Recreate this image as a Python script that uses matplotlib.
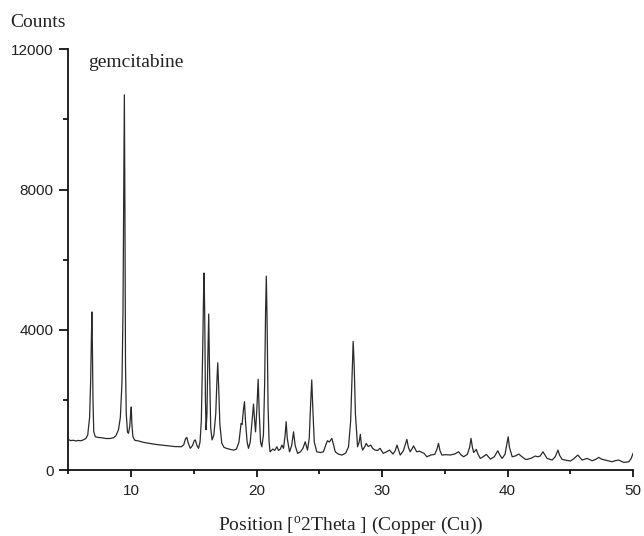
import matplotlib
matplotlib.use("Agg")
import matplotlib.pyplot as plt
from matplotlib.ticker import MultipleLocator

# XRD pattern of gemcitabine
two_theta = [
    5.0, 5.2, 5.4, 5.6, 5.8, 6.0, 6.2, 6.4, 6.55, 6.7, 6.78, 6.84, 6.88, 6.92, 6.97,
    7.03, 7.15, 7.4, 7.7, 8.0, 8.3, 8.6, 8.8, 9.0, 9.15, 9.28, 9.36, 9.42, 9.47, 9.52,
    9.56, 9.62, 9.72, 9.8, 9.9, 9.97, 10.02, 10.07, 10.15, 10.3, 10.6, 11.0, 11.5, 12.0,
    12.5, 13.0, 13.5, 14.0, 14.2, 14.35, 14.45, 14.55, 14.72, 14.9, 15.05, 15.13, 15.25,
    15.38, 15.5, 15.6, 15.7, 15.78, 15.82, 15.87, 15.93, 15.98, 16.05, 16.12, 16.19,
    16.25, 16.35, 16.46, 16.6, 16.75, 16.85, 16.91, 16.98, 17.08, 17.23, 17.4, 17.6,
    17.9, 18.2, 18.4, 18.6, 18.77, 18.85, 18.95, 19.04, 19.12, 19.25, 19.36, 19.5,
    19.62, 19.76, 19.85, 19.92, 20.02, 20.13, 20.22, 20.32, 20.42, 20.55, 20.65, 20.72,
    20.78, 20.84, 20.92, 21.0, 21.08, 21.3, 21.45, 21.62, 21.75, 21.9, 22.02, 22.15,
    22.28, 22.36, 22.45, 22.63, 22.8, 22.95, 23.08, 23.27, 23.5, 23.7, 23.88, 24.06,
    24.2, 24.3, 24.4, 24.48, 24.6, 24.8, 25.1, 25.33, 25.5, 25.65, 25.8, 26.0, 26.15,
    26.27, 26.5, 26.8, 27.1, 27.33, 27.5, 27.62, 27.7, 27.78, 27.88, 28.05, 28.18,
    28.27, 28.36, 28.45, 28.6, 28.74, 28.9, 29.1, 29.25, 29.44, 29.65, 29.84, 30.1,
    30.35, 30.6, 30.87, 31.05, 31.19, 31.45, 31.7, 31.98, 32.1, 32.24, 32.38, 32.51,
    32.76, 33.0, 33.2, 33.35, 33.57, 33.9, 34.2, 34.38, 34.5, 34.62, 34.77, 35.1,
    35.44, 35.8, 36.1, 36.3, 36.5, 36.8, 36.98, 37.09, 37.2, 37.3, 37.51, 37.65,
    37.83, 38.05, 38.31, 38.63, 38.95, 39.22, 39.4, 39.57, 39.8, 39.95, 40.05, 40.15,
    40.37, 40.6, 40.9, 41.15, 41.43, 41.55, 41.9, 42.21, 42.4, 42.6, 42.82, 43.0,
    43.15, 43.55, 43.8, 44.02, 44.15, 44.35, 44.7, 45.01, 45.3, 45.6, 45.94, 46.34,
    46.74, 47.0, 47.27, 47.5, 47.8, 48.33, 48.6, 48.86, 49.26, 49.66, 49.85, 50.0,
]
counts = [
    870, 840, 850, 830, 845, 836, 860, 900, 1000, 1500, 2500, 3800, 4510, 3600, 2000,
    1100, 950, 930, 920, 900, 900, 920, 980, 1150, 1500, 2500, 4500, 8000, 10700, 7000,
    3000, 1600, 1080, 1050, 1250, 1600, 1800, 1300, 950, 850, 830, 790, 760, 730,
    710, 690, 670, 665, 720, 900, 930, 780, 620, 700, 850, 856, 700,
    620, 800, 1400, 3200, 5000, 5620, 4500, 2000, 1150, 1600, 3200, 4450,
    3000, 1200, 860, 1000, 1600, 2600, 3060, 2400, 1300, 770, 650, 620,
    590, 570, 600, 800, 1330, 1300, 1700, 1950, 1400, 800, 620, 800,
    1300, 1880, 1400, 1090, 1700, 2590, 1600, 800, 665, 1000, 2500, 4500,
    5530, 4300, 1800, 800, 520, 600, 560, 665, 560, 600, 713, 620,
    1000, 1380, 900, 520, 700, 1090, 700, 476, 520, 620, 807, 570,
    900, 1800, 2570, 1800, 800, 522, 500, 522, 700, 836, 800, 904, 700,
    522, 460, 428, 480, 665, 1400, 2800, 3670, 3000, 1600, 665, 800,
    1020, 700, 570, 650, 760, 670, 713, 620, 570, 560, 620, 476,
    520, 570, 456, 550, 713, 428, 550, 875, 650, 522, 600, 690,
    522, 540, 500, 476, 380, 430, 450, 600, 760, 550, 428, 440,
    430, 460, 522, 430, 380, 450, 650, 904, 650, 500, 590, 450,
    333, 380, 447, 314, 380, 551, 420, 333, 450, 750, 950, 650,
    380, 400, 456, 380, 304, 304, 340, 400, 380, 400, 522, 420,
    333, 285, 380, 570, 420, 304, 280, 257, 330, 428, 285, 333,
    266, 300, 362, 310, 285, 237, 270, 285, 218, 237, 330, 476,
]

x_ticks = [10, 20, 30, 40, 50]
y_ticks = [0, 4000, 8000, 12000]

serif = "Liberation Serif"
sans = "Liberation Sans"
plt.rcParams["mathtext.fontset"] = "custom"
plt.rcParams["mathtext.rm"] = serif

fig = plt.figure(figsize=(6.44, 5.36), dpi=100)
ax = fig.add_axes([0.106, 0.123, 0.877, 0.785])

ax.plot(two_theta, counts, color="#2a2a2a", lw=0.9)

ax.set_xlim(5, 50)
ax.set_ylim(0, 12000)
ax.set_xticks(x_ticks)
ax.set_yticks(y_ticks)
ax.xaxis.set_minor_locator(MultipleLocator(5))
ax.yaxis.set_minor_locator(MultipleLocator(2000))

for s in ["top", "right"]:
    ax.spines[s].set_visible(False)
for s in ["left", "bottom"]:
    ax.spines[s].set_linewidth(1.3)
    ax.spines[s].set_color("#111111")

ax.tick_params(axis="x", which="major", direction="out", length=5, width=1.2, pad=5)
ax.tick_params(axis="x", which="minor", direction="out", length=3, width=1.2)
ax.tick_params(axis="y", which="major", direction="out", length=6.5, width=1.2, pad=4)
ax.tick_params(axis="y", which="minor", direction="out", length=3.5, width=1.2)
for lab in ax.get_xticklabels() + ax.get_yticklabels():
    lab.set_fontfamily(sans)
    lab.set_fontsize(11)
    lab.set_color("#222222")

ax.set_xlabel(r"Position [$^{\mathrm{o}}$2Theta ] (Copper (Cu))",
              fontfamily=serif, fontsize=14, color="#222222", labelpad=12)
fig.text(10 / 644, 1 - 22.7 / 536, "Counts", fontfamily=serif, fontsize=14,
         color="#222222", ha="left", va="center")
ax.text(6.57, 11610, "gemcitabine", fontfamily=serif, fontsize=14,
        color="#222222", ha="left", va="center")

fig.savefig("out.png", dpi=100)
